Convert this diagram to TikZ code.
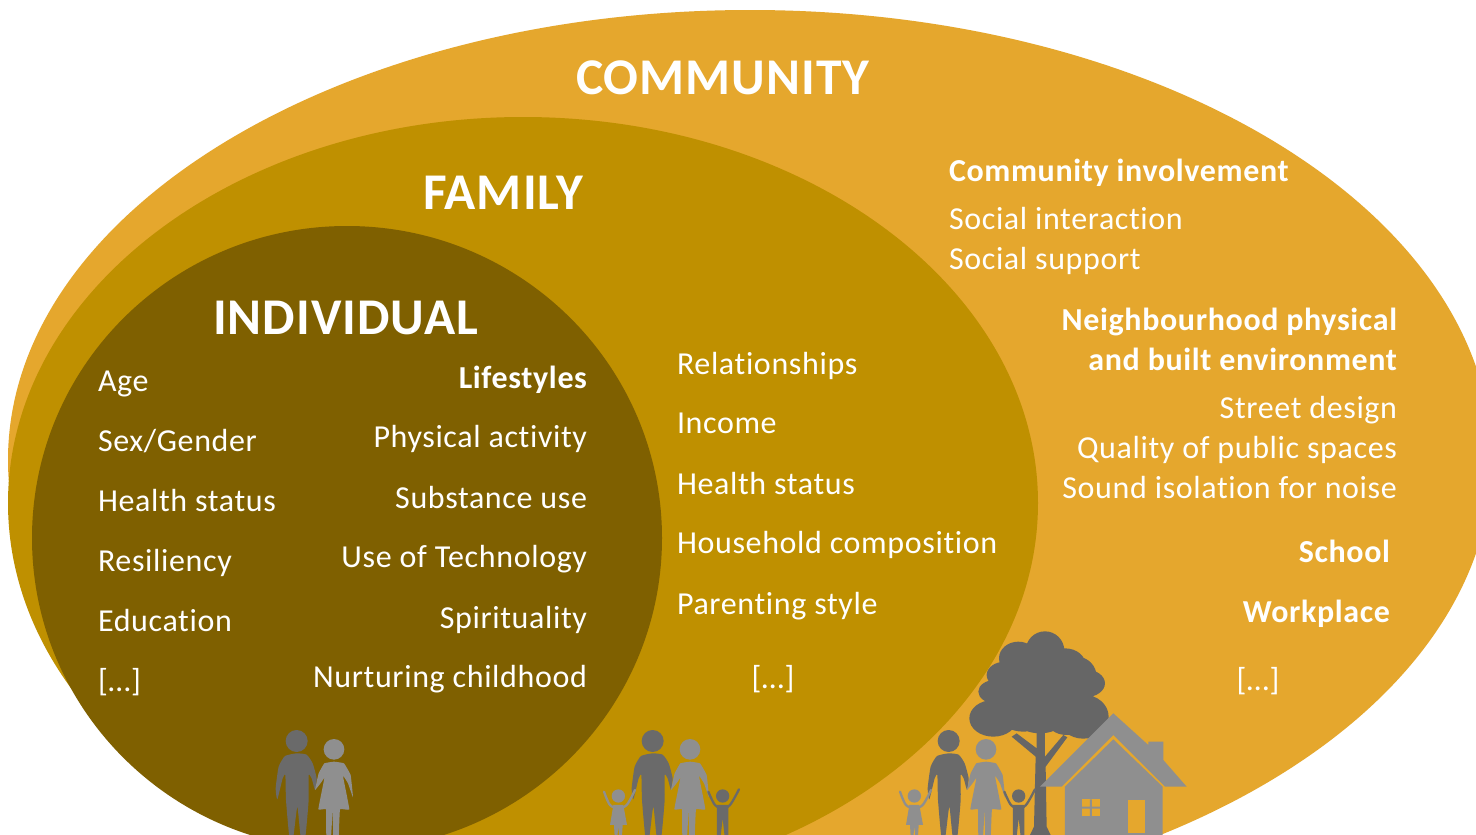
\documentclass[tikz,border=0pt]{standalone}
\usepackage{fontspec}
\setmainfont[LetterSpace=2,Ligatures=NoCommon]{Carlito}
\definecolor{commc}{HTML}{E5A72D}
\definecolor{famc}{HTML}{BF9000}
\definecolor{indc}{HTML}{7F6000}
\definecolor{darkg}{HTML}{6A6A6A}
\definecolor{lightg}{HTML}{8F8F8F}
\definecolor{treeg}{HTML}{666666}
\newcommand{\couple}{%
  \fill[darkg] (110,93) circle[radius=33];
  \fill[darkg] plot[smooth cycle,tension=.3] coordinates {(110,130) (140,134) (158,160) (170,205) (165,240) (155,205) (146,195) (146,270) (136,380) (122,380) (112,290) (100,380) (88,380) (78,270) (76,195) (68,205) (52,268) (47,235) (56,170) (75,138)};
  \fill[lightg] (222,118) circle[radius=31];
  \fill[lightg] plot[smooth cycle,tension=.15] coordinates {(222,155) (252,160) (272,195) (279,262) (264,220) (249,198) (268,298) (240,298) (236,380) (220,380) (218,300) (213,380) (199,380) (198,298) (175,298) (193,205) (183,218) (165,240) (176,190) (193,160)};
}
\newcommand{\kids}{%
  \fill[lightg] (7,258) circle[radius=20];
  \draw[lightg,line width=2.3pt,line cap=round] plot[smooth,tension=.6] coordinates {(-36,245) (-18,285) (7,293) (32,285) (57,240)};
  \fill[lightg] (-8,285) -- (22,285) -- (33,345) -- (20,345) -- (18,380) -- (10,380) -- (7,350) -- (4,380) -- (-4,380) -- (-6,345) -- (-18,345) -- cycle;
  \fill[darkg] (320,258) circle[radius=20];
  \draw[darkg,line width=2.3pt,line cap=round] plot[smooth,tension=.6] coordinates {(277,245) (297,285) (320,293) (342,285) (369,238)};
  \fill[darkg] (303,285) -- (337,285) -- (337,380) -- (326,380) -- (320,325) -- (314,380) -- (303,380) -- cycle;
}
\tikzset{
  txt/.style={text=white,font=\fontsize{32}{36}\selectfont,inner sep=0pt,outer sep=0pt},
  lft/.style={txt,anchor=base west},
  rgt/.style={txt,anchor=base east},
  ctr/.style={txt,anchor=base},
  bld/.style={font=\fontsize{32}{36}\selectfont\bfseries},
  ttl/.style={txt,anchor=base west,font=\fontsize{51.5}{56}\selectfont\bfseries},
}
\begin{document}
\begin{tikzpicture}[x=1pt,y=-1pt]
\useasboundingbox (0,0) rectangle (1476,835);
\clip (0,0) rectangle (1476,835);
\fill[white] (0,0) rectangle (1476,835);
\fill[commc] (750,460) ellipse[x radius=742,y radius=450];
\fill[famc] (523,503) ellipse[x radius=515,y radius=386];
\fill[indc] (347,538) ellipse[x radius=315,y radius=312];
\node[ttl] (tcomm) at (576,94) {COMMUNITY};
\node[ttl] (tfam) at (423,209) {FAMILY};
\node[ttl] (tind) at (213,334) {INDIVIDUAL};
\node[lft,bld] (c1) at (949,181) {Community involvement};
\node[lft] (c2) at (949,229) {Social interaction};
\node[lft] (c3) at (949,269) {Social support};
\node[rgt,bld] (c4) at (1397,330) {Neighbourhood physical};
\node[rgt,bld] (c5) at (1397,370) {and built environment};
\node[rgt] (c6) at (1397,418) {Street design};
\node[rgt] (c7) at (1397,458) {Quality of public spaces};
\node[rgt] (c8) at (1397,498) {Sound isolation for noise};
\node[rgt,bld] (c9) at (1390,562) {School};
\node[rgt,bld] (c10) at (1390,622) {Workplace};
\node[ctr] (c11) at (1258,690) {[…]};
\node[lft] (f1) at (677,374) {Relationships};
\node[lft] (f2) at (677,433) {Income};
\node[lft] (f3) at (677,494) {Health status};
\node[lft] (f4) at (677,553) {Household composition};
\node[lft] (f5) at (677,614) {Parenting style};
\node[ctr] (f6) at (773,688) {[…]};
\node[lft] (i1) at (98,391) {Age};
\node[lft] (i2) at (98,451) {Sex/Gender};
\node[lft] (i3) at (98,511) {Health status};
\node[lft] (i4) at (98,571) {Resiliency};
\node[lft] (i5) at (98,631) {Education};
\node[lft] (i6) at (98,691) {[…]};
\node[rgt,bld] (l1) at (587,388) {Lifestyles};
\node[rgt] (l2) at (587,447) {Physical activity};
\node[rgt] (l3) at (587,508) {Substance use};
\node[rgt] (l4) at (587,567) {Use of Technology};
\node[rgt] (l5) at (587,628) {Spirituality};
\node[rgt] (l6) at (587,687) {Nurturing childhood};
% people
\begin{scope}[shift={(260pt,-710pt)},x=.3333pt,y=-.3333pt] \couple \end{scope}
\begin{scope}[shift={(616pt,-710pt)},x=.3333pt,y=-.3333pt] \couple \kids \end{scope}
% tree
\begin{scope}[shift={(880pt,-620pt)},x=.3333pt,y=-.3333pt]
  \fill[treeg] (495,92) circle[radius=58] (415,115) ellipse[x radius=58,y radius=50] (555,135) ellipse[x radius=62,y radius=50]
    (375,165) ellipse[x radius=55,y radius=40] (615,190) ellipse[x radius=60,y radius=42] (345,215) ellipse[x radius=50,y radius=35]
    (340,295) ellipse[x radius=72,y radius=55] (610,290) ellipse[x radius=76,y radius=66] (480,220) circle[radius=120]
    (430,290) ellipse[x radius=70,y radius=45] (560,300) ellipse[x radius=60,y radius=45]
    (385,230) ellipse[x radius=65,y radius=60] (420,160) circle[radius=60] (590,170) circle[radius=60];
  \fill[treeg] (470,330) -- (495,330) -- (495,410) -- (550,345) -- (562,352) -- (497,440) -- (500,620) -- (512,645) -- (450,645) -- (462,620) -- (467,410) -- (395,350) -- (410,340) -- (470,385) -- cycle;
\end{scope}
% third family
\begin{scope}[shift={(912pt,-710pt)},x=.3333pt,y=-.3333pt] \couple \kids \end{scope}
% house
\begin{scope}[shift={(880pt,-620pt)},x=.3333pt,y=-.3333pt]
  \fill[lightg] (480,500) -- (700,280) -- (805,375) -- (805,365) -- (850,365) -- (850,420) -- (920,500) -- (855,500) -- (700,345) -- (545,500) -- cycle;
  \fill[lightg] (555,500) -- (700,358) -- (848,500) -- (848,650) -- (555,650) -- cycle;
  \fill[commc] (606,538) rectangle (660,588);
  \fill[lightg] (630,538) rectangle (636,588) (606,560) rectangle (660,566);
  \fill[commc] (745,540) rectangle (795,640);
\end{scope}
\end{tikzpicture}
\end{document}
